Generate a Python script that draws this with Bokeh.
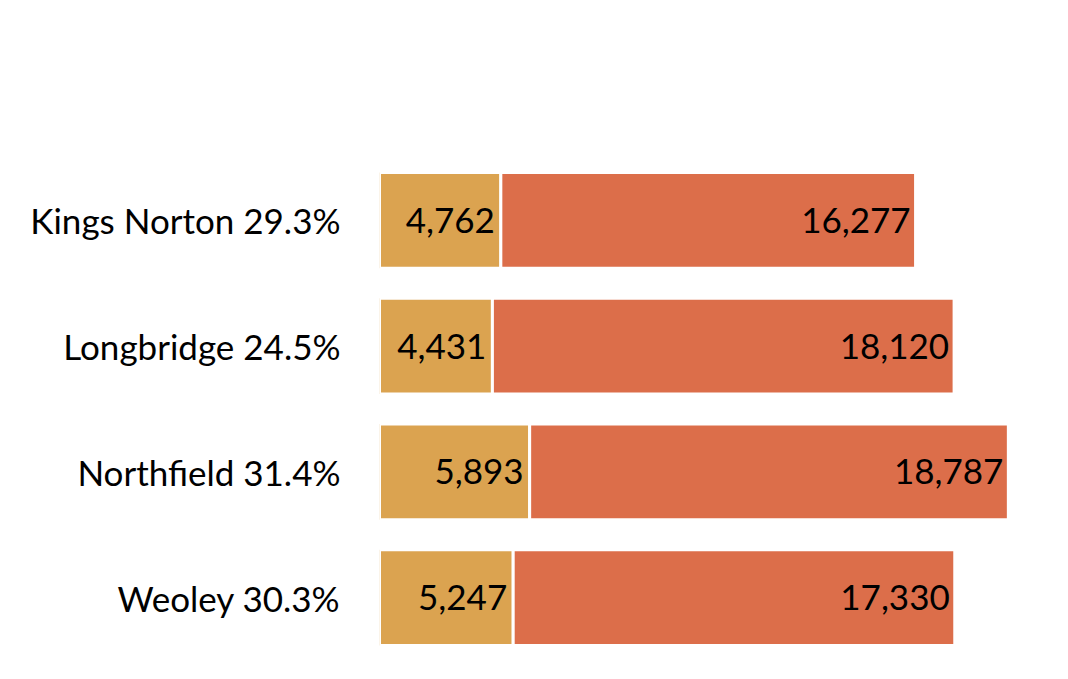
from bokeh.plotting import figure
from bokeh.models import ColumnDataSource, Legend, LegendItem, FactorRange
from bokeh.embed import file_html
from bokeh.resources import INLINE
from bokeh.core.properties import value

wards = ["Kings Norton", "Longbridge", "Northfield", "Weoley"]
pct = ["29.3%", "24.5%", "31.4%", "30.3%"]
turnout = [4762, 4431, 5893, 5247]
electorate = [16277, 18120, 18787, 17330]

cats = [f"{w} {p}" for w, p in zip(wards, pct)]
ends = [t + e for t, e in zip(turnout, electorate)]
src = ColumnDataSource(dict(
    cat=cats, t=turnout, e=electorate, end=ends, zero=[0]*4,
    tl=[f"{v:,}" for v in turnout], el=[f"{v:,}" for v in electorate]))

FONT = "Lato"
p = figure(width=1052, height=663, output_backend="svg", toolbar_location=None,
           y_range=FactorRange(*reversed(cats)), x_range=(0, 25628),
           min_border_left=379, min_border_right=20, min_border_top=157, min_border_bottom=3)
p.outline_line_color = None
p.grid.visible = False
p.xaxis.visible = False
p.yaxis.axis_line_color = None
p.yaxis.major_tick_line_color = None
p.yaxis.major_label_text_font_size = "35px"
p.yaxis.major_label_text_font = FONT
p.yaxis.major_label_text_color = "black"
p.yaxis.major_label_standoff = 33

r1 = p.hbar(y="cat", left="zero", right="t", height=0.76, source=src,
            fill_color="#DBA350", line_color="white", line_width=3)
r2 = p.hbar(y="cat", left="t", right="end", height=0.76, source=src,
            fill_color="#DC6E4A", line_color="white", line_width=3)
p.text(x="t", y="cat", text="tl", source=src, text_align="right", text_baseline="middle",
       x_offset=-6, text_font=value(FONT), text_font_size="35px", text_color="black")
p.text(x="end", y="cat", text="el", source=src, text_align="right", text_baseline="middle",
       x_offset=-5, text_font=value(FONT), text_font_size="35px", text_color="black")

leg = Legend(items=[LegendItem(label="Turnout", renderers=[r1]),
                    LegendItem(label="Electorate", renderers=[r2])],
             location=(16, 590), orientation="horizontal",
             glyph_width=33, glyph_height=33, label_text_font_size="36px",
             label_text_font=FONT, spacing=150, label_standoff=25,
             border_line_color=None, background_fill_alpha=0)
p.add_layout(leg, "center")

open("out.html", "w").write(file_html(p, INLINE))
